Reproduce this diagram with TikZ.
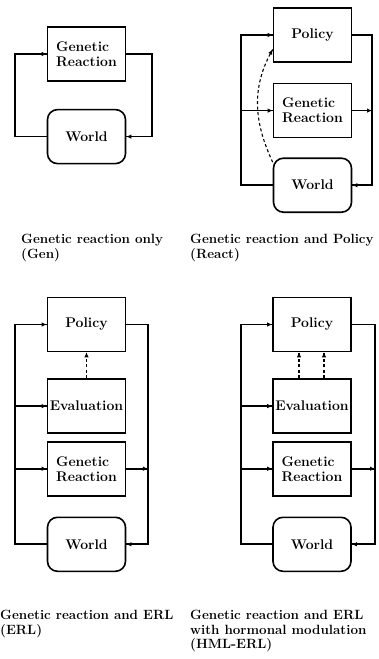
\documentclass[tikz,border=0pt]{standalone}
\usetikzlibrary{positioning, calc, shapes, arrows.meta, decorations.markings}
\tikzstyle{Box} = [draw, line width=1.6pt, minimum width=78pt,
minimum height=54pt, inner sep=0pt, align=left,
font=\fontsize{14}{15}\selectfont\bfseries]
\tikzstyle{World} = [Box, rounded corners=10pt]
\tikzstyle{Caption} = [anchor=north west, inner sep=0pt, align=left,
font=\fontsize{13.4}{14.5}\selectfont\bfseries]
\tikzstyle{Arrow} = [
line width=1.7pt,
decoration={
markings,
mark=at position 0.9999 with {
\arrow{Latex[length=5pt,width=4.5pt]}}},
preaction = {decorate}]
\tikzstyle{DashArrow} = [Arrow, line width=1.1pt, dash pattern=on 3pt off 2.5pt]

\begin{document}
\begin{tikzpicture}[x=1pt, y=1pt]
    \useasboundingbox (0,0) rectangle (378,-659);
    % Gen
    \node[Box] (gen1) at (86.5,-54) {Genetic\\Reaction};
    \node[World, below=27pt of gen1] (world1) {World};
    \coordinate (l1) at (15,0);
    \coordinate (r1) at (152,0);
    \draw[Arrow] (world1.west) -- (world1.west -| l1) |- (gen1.west);
    \draw[Arrow] (gen1.east) -- (gen1.east -| r1) |- (world1.east);
    \node[Caption] (cap1) at (21,-234) {Genetic reaction only\\(Gen)};
    % React
    \node[Box] (pol2) at (312.5,-35) {Policy};
    \node[Box, below=20pt of pol2] (gen2) {Genetic\\Reaction};
    \node[World, below=19pt of gen2] (world2) {World};
    \coordinate (l2) at (241,0);
    \coordinate (r2) at (372,0);
    \draw[Arrow] (world2.west) -- (world2.west -| l2) |- (pol2.west);
    \draw[Arrow] (gen2.west -| l2) -- (gen2.west);
    \draw[Arrow] (pol2.east) -- (pol2.east -| r2) |- (world2.east);
    \draw[Arrow] (gen2.east) -- (gen2.east -| r2);
    \draw[DashArrow] (world2.150) to [out=115, in=240] (pol2.200);
    \node[Caption] (cap2) at (190,-234) {Genetic reaction and Policy\\(React)};
    % ERL
    \node[Box] (pol3) at (86.5,-324.5) {Policy};
    \node[Box, below=26pt of pol3] (eval3) {Evaluation};
    \node[Box, below=7pt of eval3] (gen3) {Genetic\\Reaction};
    \node[World, below=20pt of gen3] (world3) {World};
    \coordinate (l3) at (15,0);
    \coordinate (r3) at (148,0);
    \draw[Arrow] (world3.west) -- (world3.west -| l3) |- (pol3.west);
    \draw[Arrow] (eval3.west -| l3) -- (eval3.west);
    \draw[Arrow] (gen3.west -| l3) -- (gen3.west);
    \draw[Arrow] (pol3.east) -- (pol3.east -| r3) |- (world3.east);
    \draw[Arrow] (gen3.east) -- (gen3.east -| r3);
    \draw[DashArrow] (eval3.north) -- (pol3.south);
    \node[Caption] (cap3) at (0,-610) {Genetic reaction and ERL\\(ERL)};
    % HML-ERL
    \node[Box] (pol4) at (312,-324.5) {Policy};
    \node[Box, below=26pt of pol4] (eval4) {Evaluation};
    \node[Box, below=7pt of eval4] (gen4) {Genetic\\Reaction};
    \node[World, below=20pt of gen4] (world4) {World};
    \coordinate (l4) at (241,0);
    \coordinate (r4) at (375,0);
    \draw[Arrow] (world4.west) -- (world4.west -| l4) |- (pol4.west);
    \draw[Arrow] (eval4.west -| l4) -- (eval4.west);
    \draw[Arrow] (gen4.west -| l4) -- (gen4.west);
    \draw[Arrow] (pol4.east) -- (pol4.east -| r4) |- (world4.east);
    \draw[Arrow] (gen4.east) -- (gen4.east -| r4);
    \draw[DashArrow] ([xshift=-13pt]eval4.north) -- ([xshift=-13pt]pol4.south);
    \draw[DashArrow] ([xshift=12pt]eval4.north) -- ([xshift=12pt]pol4.south);
    \node[Caption] (cap4) at (190,-610) {Genetic reaction and ERL\\with hormonal modulation\\(HML-ERL)};
\end{tikzpicture}
\end{document}
